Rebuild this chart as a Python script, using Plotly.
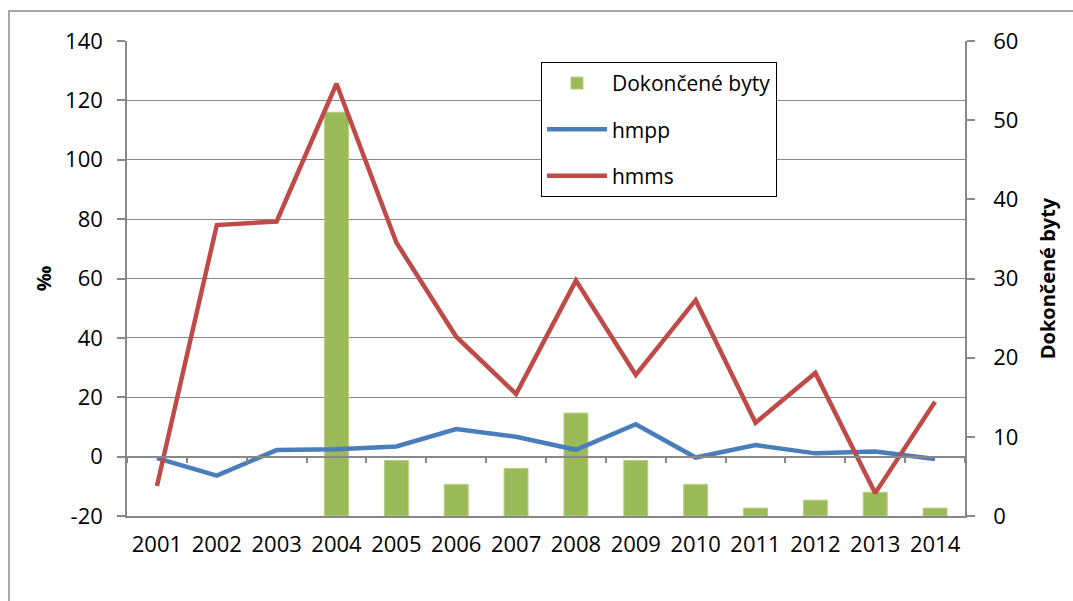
import plotly.graph_objects as go

years = ["2001", "2002", "2003", "2004", "2005", "2006", "2007",
         "2008", "2009", "2010", "2011", "2012", "2013", "2014"]
dokoncene_byty = [None, None, None, 51, 7, 4, 6, 13, 7, 4, 1, 2, 3, 1]
hmpp = [-0.5, -6.4, 2.2, 2.5, 3.4, 9.3, 6.7, 2.3, 10.9, -0.3, 3.9, 1.1, 1.7, -0.8]
hmms = [-9.9, 78.0, 79.2, 125.6, 72.1, 40.4, 21.1, 59.3, 27.5, 52.7, 11.4, 28.2, -12.3, 18.5]

left_ticks = [-20, 0, 20, 40, 60, 80, 100, 120, 140]
left_labels = ["-20", "0", "20", "40", "60", "80", "100", "120", "140"]
right_ticks = [0, 10, 20, 30, 40, 50, 60]

FONT = "Open Sans"
GRAY = "#888888"

fig = go.Figure()
fig.add_trace(go.Bar(
    x=years, y=dokoncene_byty, name="Dokončené byty",
    marker=dict(color="#9bbb59", line=dict(color="#b5cf86", width=1)),
    width=0.4, xaxis="x", yaxis="y", legendgroup="a"))
fig.add_trace(go.Scatter(
    x=years, y=hmpp, name="hmpp", mode="lines",
    line=dict(color="#4a7ebb", width=4.5), xaxis="x2", yaxis="y2", legendgroup="b"))
fig.add_trace(go.Scatter(
    x=years, y=hmms, name="hmms", mode="lines",
    line=dict(color="#be4b48", width=4.5), xaxis="x2", yaxis="y2", legendgroup="c"))

pos0 = (0 - left_ticks[0]) / (left_ticks[-1] - left_ticks[0])

fig.update_layout(
    width=1073, height=601,
    margin=dict(l=127, r=108, t=41, b=85, autoexpand=False),
    paper_bgcolor="white", plot_bgcolor="white",
    font=dict(family=FONT, size=22, color="black"),
    showlegend=True,
    legend=dict(x=0.494, y=0.956, xanchor="left", yanchor="top",
                bgcolor="white", bordercolor="black", borderwidth=1,
                font=dict(size=21), traceorder="grouped", tracegroupgap=16,
                itemwidth=60),
    xaxis=dict(type="category", categoryorder="array", categoryarray=years,
               range=[-0.5, 13.5], showline=True, linecolor=GRAY, linewidth=1.5,
               ticks="", showgrid=False, tickfont=dict(size=22), ticklabelstandoff=8),
    xaxis2=dict(type="category", categoryorder="array", categoryarray=years,
                range=[-0.5, 13.5], overlaying="x", anchor="free", position=pos0,
                showline=True, linecolor=GRAY, linewidth=1.5, ticks="outside",
                tickson="boundaries", ticklen=6, tickcolor=GRAY, tickwidth=1.5,
                showticklabels=False, showgrid=False),
    yaxis=dict(side="right", range=[0, 60], tickvals=right_ticks, showgrid=False,
               showline=True, linecolor=GRAY, linewidth=1.5, ticks="outside",
               ticklen=8, tickcolor=GRAY, tickwidth=1.5, zeroline=False,
               ticklabelstandoff=14,
               title=dict(text="<b>Dokončené byty</b>", font=dict(size=20), standoff=24)),
    yaxis2=dict(side="left", overlaying="y", range=[-20, 140], tickvals=left_ticks,
                ticktext=left_labels,
                showgrid=True, gridcolor=GRAY, gridwidth=1.2, zeroline=False,
                showline=True, linecolor=GRAY, linewidth=1.5, ticks="outside",
                ticklen=8, tickcolor=GRAY, tickwidth=1.5, ticklabelstandoff=10,
                title=dict(text="<b>‰</b>", font=dict(size=20), standoff=8)),
    bargap=0.6,
)

fig.add_shape(type="rect", xref="paper", yref="paper",
              x0=-0.1408, x1=1.3, y0=-0.5, y1=1.063,
              line=dict(color="#8a8a8a", width=1.5), fillcolor="rgba(0,0,0,0)",
              layer="below")

fig.write_html("out.html", config={"displayModeBar": False},
               post_script="document.body.style.margin='0';document.body.style.padding='0';")
